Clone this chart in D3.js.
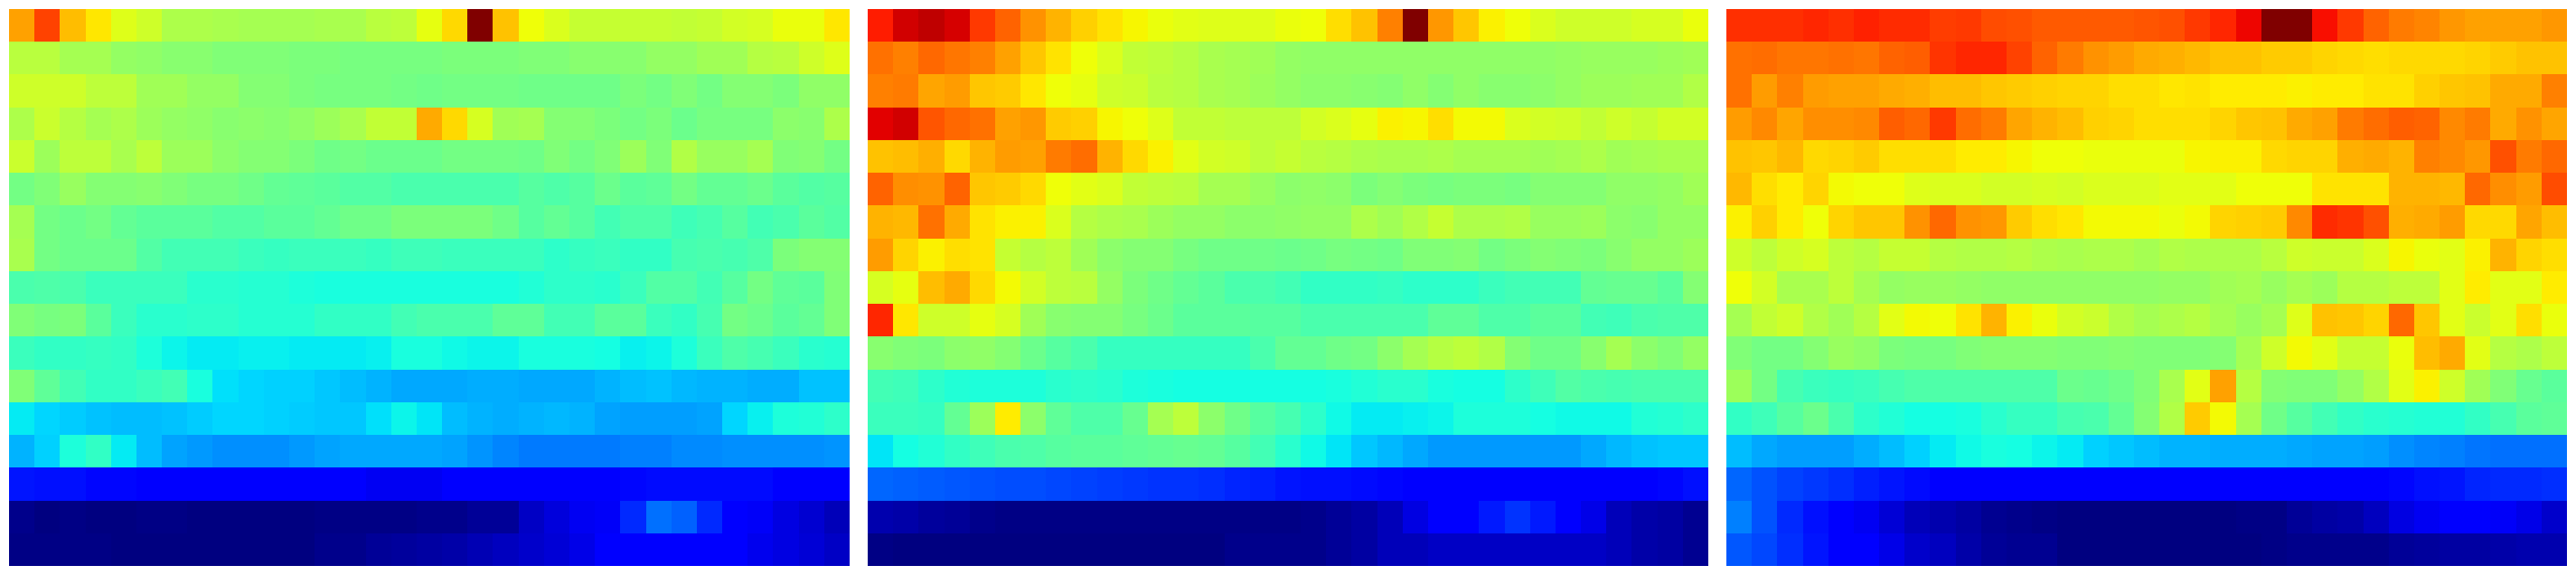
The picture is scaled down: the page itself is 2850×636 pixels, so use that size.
<!DOCTYPE html>
<html>
<head>
<meta charset="utf-8">
<script src="https://cdn.jsdelivr.net/npm/d3@7"></script>
<style>html,body{margin:0;padding:0;background:#fff}svg{display:block}</style>
</head>
<body>
<svg id="chart" width="2850" height="636"></svg>
<script>
const leftPanel = [
[.74,.84,.71,.665,.62,.60,.56,.56,.555,.55,.55,.55,.555,.555,.575,.58,.63,.68,1.0,.705,.64,.615,.59,.59,.59,.59,.585,.59,.605,.61,.635,.635,.665],
[.575,.575,.55,.55,.53,.525,.515,.515,.505,.505,.505,.50,.50,.495,.495,.495,.495,.50,.50,.50,.505,.505,.515,.515,.515,.53,.53,.545,.545,.57,.575,.60,.62],
[.60,.60,.60,.58,.58,.545,.545,.53,.53,.51,.51,.50,.495,.495,.495,.49,.485,.49,.49,.49,.485,.485,.485,.485,.50,.49,.505,.49,.51,.51,.50,.525,.525],
[.56,.595,.57,.55,.56,.54,.53,.525,.515,.52,.515,.525,.54,.555,.585,.585,.73,.68,.61,.545,.55,.51,.51,.50,.49,.50,.48,.495,.495,.495,.52,.515,.56],
[.595,.54,.58,.58,.555,.58,.54,.54,.52,.51,.51,.50,.485,.49,.48,.48,.48,.49,.49,.49,.485,.505,.49,.505,.54,.505,.565,.535,.535,.55,.505,.51,.49],
[.49,.505,.535,.51,.51,.515,.505,.495,.495,.485,.47,.465,.46,.45,.45,.44,.44,.44,.44,.44,.455,.445,.455,.48,.46,.465,.49,.47,.47,.48,.46,.45,.455],
[.55,.49,.48,.49,.47,.46,.46,.46,.45,.45,.46,.46,.47,.485,.485,.50,.50,.50,.50,.485,.455,.47,.455,.43,.445,.445,.425,.435,.455,.43,.44,.46,.45],
[.555,.49,.48,.48,.48,.45,.43,.43,.43,.42,.415,.42,.42,.42,.415,.425,.425,.42,.42,.42,.42,.405,.415,.42,.41,.41,.435,.44,.435,.445,.50,.51,.51],
[.44,.445,.44,.42,.42,.42,.42,.40,.40,.395,.395,.385,.38,.38,.38,.38,.38,.38,.38,.38,.39,.405,.405,.40,.42,.45,.45,.43,.455,.49,.465,.46,.505],
[.505,.495,.50,.46,.42,.40,.40,.405,.405,.395,.395,.395,.41,.41,.41,.43,.44,.44,.44,.465,.465,.43,.43,.46,.46,.42,.41,.435,.49,.48,.46,.47,.505],
[.42,.41,.41,.415,.41,.385,.365,.355,.355,.36,.36,.355,.355,.355,.36,.38,.38,.37,.365,.365,.38,.38,.38,.375,.36,.365,.385,.42,.445,.435,.42,.40,.395],
[.505,.465,.43,.41,.41,.42,.43,.38,.345,.335,.33,.33,.32,.31,.30,.29,.29,.29,.295,.295,.29,.29,.29,.30,.31,.315,.305,.30,.30,.295,.295,.315,.315],
[.355,.335,.325,.315,.31,.31,.315,.325,.335,.335,.33,.325,.32,.32,.345,.365,.35,.31,.30,.295,.30,.305,.30,.285,.28,.28,.28,.285,.335,.36,.385,.39,.405],
[.30,.33,.385,.41,.355,.31,.285,.275,.265,.265,.265,.275,.285,.29,.29,.29,.29,.285,.27,.255,.245,.245,.245,.245,.25,.25,.26,.26,.265,.265,.265,.265,.27],
[.145,.14,.14,.13,.13,.12,.115,.115,.115,.115,.115,.115,.115,.11,.10,.10,.10,.115,.115,.115,.115,.115,.115,.11,.13,.135,.135,.135,.135,.135,.12,.12,.12],
[.01,0,.005,0,0,.005,.005,0,0,0,0,0,.005,.005,.005,.005,.01,.01,.02,.02,.06,.08,.10,.105,.165,.235,.22,.165,.115,.105,.085,.07,.05],
[.005,.005,.005,.005,0,0,0,0,0,0,0,0,.01,.01,.02,.025,.03,.035,.045,.055,.065,.075,.09,.11,.11,.11,.11,.11,.11,.095,.085,.075,.06]
];
const middlePanel = [
[.88,.93,.945,.925,.85,.805,.755,.72,.69,.67,.65,.635,.625,.62,.62,.62,.635,.64,.675,.705,.775,1.0,.75,.70,.655,.64,.615,.60,.60,.60,.61,.61,.635],
[.79,.775,.80,.785,.775,.74,.70,.67,.64,.615,.585,.58,.57,.555,.55,.545,.53,.525,.525,.525,.525,.525,.525,.525,.525,.525,.525,.53,.535,.535,.535,.54,.545],
[.775,.78,.735,.745,.70,.695,.665,.64,.63,.60,.595,.575,.57,.555,.55,.54,.53,.52,.52,.515,.51,.525,.51,.525,.515,.515,.52,.53,.54,.54,.545,.545,.565],
[.915,.93,.82,.80,.79,.74,.75,.695,.69,.65,.64,.62,.585,.585,.58,.58,.58,.605,.615,.63,.655,.65,.675,.645,.645,.615,.605,.60,.585,.60,.59,.605,.605],
[.705,.71,.725,.68,.72,.745,.74,.78,.795,.72,.68,.655,.625,.605,.60,.58,.59,.575,.57,.56,.555,.555,.56,.55,.55,.55,.545,.55,.56,.545,.55,.555,.555],
[.805,.76,.755,.805,.70,.695,.68,.64,.625,.615,.585,.58,.575,.55,.55,.535,.52,.525,.52,.50,.51,.50,.495,.50,.50,.495,.51,.51,.51,.525,.525,.53,.545],
[.72,.715,.79,.73,.67,.655,.655,.615,.57,.56,.555,.54,.53,.53,.52,.52,.525,.53,.53,.56,.545,.565,.59,.56,.56,.565,.535,.535,.54,.52,.515,.53,.53],
[.745,.685,.655,.675,.67,.59,.57,.58,.545,.52,.51,.51,.495,.485,.485,.485,.48,.485,.495,.49,.485,.505,.505,.51,.49,.50,.51,.505,.50,.515,.53,.53,.54],
[.61,.63,.71,.73,.68,.645,.605,.58,.575,.53,.50,.485,.47,.46,.44,.44,.43,.41,.41,.41,.415,.405,.405,.405,.42,.43,.43,.43,.47,.475,.475,.46,.51],
[.87,.665,.60,.60,.63,.61,.545,.515,.51,.51,.495,.48,.46,.46,.46,.455,.455,.44,.44,.44,.44,.44,.465,.465,.445,.445,.46,.46,.43,.425,.44,.445,.445],
[.515,.505,.50,.52,.525,.51,.48,.455,.44,.415,.415,.415,.415,.415,.415,.44,.47,.47,.485,.49,.52,.55,.57,.58,.565,.51,.485,.485,.515,.55,.52,.505,.53],
[.43,.425,.405,.39,.385,.385,.385,.40,.405,.40,.385,.38,.375,.375,.375,.375,.375,.375,.38,.39,.40,.40,.38,.375,.375,.405,.425,.45,.44,.435,.44,.44,.44],
[.42,.42,.415,.47,.54,.66,.52,.465,.445,.445,.475,.55,.58,.52,.485,.455,.435,.405,.37,.355,.355,.36,.365,.385,.385,.385,.375,.37,.37,.37,.39,.395,.405],
[.35,.375,.39,.41,.425,.44,.445,.455,.46,.46,.465,.47,.475,.47,.455,.43,.40,.37,.35,.32,.305,.29,.275,.275,.275,.275,.275,.275,.29,.305,.315,.32,.32],
[.225,.22,.215,.21,.205,.20,.20,.195,.19,.185,.18,.175,.175,.17,.16,.155,.145,.14,.14,.135,.13,.125,.12,.12,.12,.12,.12,.12,.12,.12,.12,.13,.14],
[.04,.035,.025,.02,.01,.005,.005,.005,.005,.005,.005,.005,.005,.005,.005,.005,.005,.01,.02,.03,.05,.085,.11,.115,.15,.175,.15,.115,.09,.05,.035,.03,.015],
[.005,0,0,0,0,0,0,0,0,0,0,0,0,0,.01,.01,.01,.01,.02,.03,.05,.05,.06,.06,.06,.06,.06,.06,.06,.05,.035,.03,.015]
];
const rightPanel = [
[.86,.86,.86,.87,.86,.875,.865,.865,.845,.85,.83,.825,.815,.815,.815,.815,.82,.825,.85,.87,.905,1.0,1.0,.895,.85,.805,.78,.77,.75,.74,.74,.74,.75],
[.79,.795,.785,.785,.79,.785,.805,.81,.855,.87,.87,.84,.805,.78,.755,.745,.73,.725,.715,.705,.705,.695,.695,.685,.68,.675,.68,.68,.68,.685,.695,.705,.705],
[.79,.745,.775,.745,.74,.74,.73,.725,.71,.71,.70,.695,.69,.685,.685,.675,.675,.665,.67,.66,.66,.66,.655,.66,.66,.67,.67,.69,.70,.705,.73,.73,.775],
[.745,.765,.735,.76,.76,.765,.81,.80,.85,.795,.78,.735,.72,.71,.69,.685,.675,.675,.675,.685,.70,.705,.73,.74,.78,.795,.81,.805,.765,.78,.73,.755,.735],
[.705,.70,.715,.68,.685,.695,.675,.675,.675,.66,.66,.65,.64,.64,.635,.635,.635,.635,.65,.655,.655,.68,.685,.685,.725,.73,.72,.775,.765,.75,.825,.78,.80],
[.715,.675,.66,.685,.645,.64,.64,.62,.615,.615,.605,.605,.61,.605,.615,.615,.615,.625,.625,.625,.64,.64,.64,.67,.67,.67,.72,.72,.715,.80,.76,.745,.83],
[.655,.69,.66,.64,.685,.70,.70,.755,.80,.755,.75,.695,.675,.665,.645,.645,.645,.635,.645,.685,.69,.695,.765,.865,.855,.825,.725,.73,.745,.68,.68,.735,.71],
[.60,.58,.60,.61,.58,.57,.59,.59,.57,.565,.565,.57,.56,.555,.56,.56,.55,.565,.56,.56,.56,.575,.60,.595,.595,.615,.65,.635,.625,.655,.72,.685,.675],
[.64,.605,.555,.555,.58,.55,.53,.535,.535,.53,.525,.525,.525,.525,.525,.525,.525,.53,.53,.545,.55,.535,.55,.54,.57,.57,.58,.58,.625,.66,.625,.625,.66],
[.55,.585,.60,.565,.545,.57,.625,.645,.64,.67,.72,.655,.635,.605,.595,.565,.55,.56,.57,.55,.535,.55,.62,.705,.70,.685,.80,.70,.625,.595,.625,.675,.635],
[.505,.49,.49,.51,.535,.525,.50,.495,.495,.505,.51,.51,.51,.505,.505,.51,.505,.505,.505,.51,.55,.60,.645,.625,.59,.59,.635,.71,.73,.625,.57,.56,.58],
[.54,.49,.435,.42,.415,.42,.435,.445,.445,.445,.445,.445,.445,.48,.475,.485,.505,.555,.625,.74,.57,.51,.505,.505,.53,.565,.625,.655,.60,.545,.505,.475,.46],
[.41,.425,.455,.48,.44,.405,.39,.375,.375,.38,.40,.415,.415,.435,.44,.47,.51,.565,.695,.645,.55,.485,.455,.43,.41,.40,.395,.39,.39,.41,.435,.46,.465],
[.31,.29,.28,.28,.28,.295,.31,.33,.355,.37,.38,.375,.365,.355,.33,.32,.31,.30,.30,.295,.295,.295,.29,.285,.285,.28,.265,.255,.25,.24,.235,.235,.235],
[.225,.205,.19,.18,.17,.155,.145,.135,.12,.115,.115,.115,.115,.115,.115,.115,.115,.115,.115,.115,.115,.115,.115,.115,.115,.12,.13,.14,.145,.16,.165,.165,.17],
[.25,.205,.165,.14,.115,.10,.075,.05,.04,.03,.015,.01,.005,0,0,0,0,0,0,0,.005,.005,.02,.03,.035,.055,.085,.10,.11,.11,.105,.09,.065],
[.21,.195,.17,.145,.115,.115,.09,.065,.055,.035,.02,.015,.015,0,0,0,0,0,0,0,0,.005,.01,.01,.01,.01,.02,.025,.03,.03,.035,.04,.04]
];
const panels = [leftPanel, middlePanel, rightPanel];
const panelLefts = [10, 960, 1910];

const jetChannels = {
  r: d3.scaleLinear().domain([0, .35, .66, .89, 1]).range([0, 0, 255, 255, 127.5]),
  g: d3.scaleLinear().domain([0, .125, .375, .64, .91, 1]).range([0, 0, 255, 255, 0, 0]),
  b: d3.scaleLinear().domain([0, .11, .34, .65, 1]).range([127.5, 255, 255, 0, 0])
};
const jet = v => d3.rgb(jetChannels.r(v), jetChannels.g(v), jetChannels.b(v)).formatRgb();

const snap = v => Math.floor(v + 0.49);
const svg = d3.select('#chart');

panels.forEach((rows, p) => {
  const left = panelLefts[p];
  const x = d3.scaleLinear().domain([0, 33]).range([left, left + 930]);
  const y = d3.scaleLinear().domain([0, 17]).range([10, 626]);
  const g = svg.append('g').attr('class', 'panel');
  rows.forEach((row, r) => {
    g.selectAll(null).data(row).join('rect')
      .attr('x', (d, c) => snap(x(c)))
      .attr('y', snap(y(r)))
      .attr('width', (d, c) => snap(x(c + 1)) - snap(x(c)))
      .attr('height', snap(y(r + 1)) - snap(y(r)))
      .attr('shape-rendering', 'crispEdges')
      .attr('fill', d => jet(d));
  });
});
</script>
</body>
</html>
